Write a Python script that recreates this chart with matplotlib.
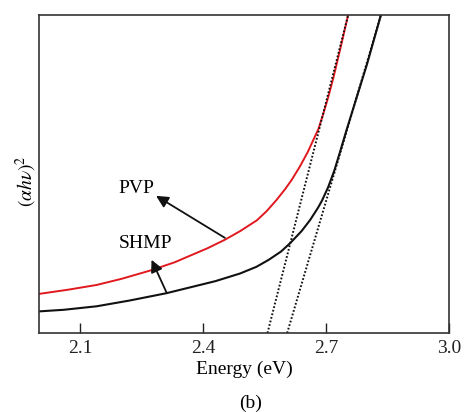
#Tauc plot: (ahv)^2 vs photon energy for PVP and SHMP samples
import numpy as np
import matplotlib
matplotlib.use("Agg")
import matplotlib.pyplot as plt

#Data (arbitrary y units, 0-10)
energy_pvp = [2.00, 2.07, 2.14, 2.20, 2.27, 2.33, 2.368, 2.41, 2.453, 2.49, 2.531, 2.555, 2.579, 2.60,
              2.616, 2.636, 2.655, 2.669, 2.681, 2.693, 2.705, 2.718, 2.735, 2.754]
abs_pvp = [1.23, 1.36, 1.51, 1.70, 1.96, 2.22, 2.43, 2.66, 2.93, 3.20, 3.54, 3.83, 4.18, 4.52,
           4.81, 5.23, 5.68, 6.07, 6.40, 6.88, 7.40, 8.03, 8.95, 10.0]

energy_shmp = [2.00, 2.06, 2.14, 2.22, 2.31, 2.37, 2.43, 2.49, 2.53, 2.56, 2.59, 2.612, 2.64, 2.661,
               2.68, 2.69, 2.705, 2.72, 2.735, 2.75, 2.775, 2.80, 2.834]
abs_shmp = [0.68, 0.73, 0.84, 1.02, 1.25, 1.44, 1.63, 1.87, 2.08, 2.30, 2.56, 2.82, 3.20, 3.55,
            3.93, 4.16, 4.58, 5.10, 5.73, 6.38, 7.42, 8.45, 10.0]

#Tangent (extrapolation) lines: energy at y=0 and y=10
fit_pvp_x = [2.557, 2.754]
fit_shmp_x = [2.605, 2.834]
fit_y = [0, 10]

xticks = [2.1, 2.4, 2.7, 3.0]

plt.rcParams['font.family'] = ['Liberation Serif', 'DejaVu Serif']
plt.rcParams['mathtext.fontset'] = 'stix'

fig = plt.figure(figsize=(4.65, 4.12), dpi=100)
ax = fig.add_axes([0.0845, 0.1917, 0.8811, 0.7726])

ax.plot(energy_pvp, abs_pvp, color='#e0191f', lw=1.4)
ax.plot(energy_shmp, abs_shmp, color='#111111', lw=1.5)
ax.plot(fit_pvp_x, fit_y, color='#111111', lw=1.4, ls=(0, (0.9, 1.0)))
ax.plot(fit_shmp_x, fit_y, color='#111111', lw=1.4, ls=(0, (0.9, 1.0)))

ax.set_xlim(2.0, 3.0)
ax.set_ylim(0, 10)
ax.set_xticks(xticks)
ax.set_xticklabels(['%.1f' % t for t in xticks])
ax.set_yticks([])
ax.tick_params(axis='x', direction='in', length=7, width=1.0, labelsize=14, pad=5, colors='#222222')
for s in ax.spines.values():
    s.set_linewidth(1.2)
    s.set_color('#333333')

ax.set_xlabel('Energy (eV)', fontsize=14, labelpad=3)
fig.text(0.056, 0.56, r'$(\alpha h\nu)^2$', rotation=90, fontsize=14, ha='center', va='center')
fig.text(0.538, 0.022, '(b)', fontsize=14, ha='center', va='center')

#Labels and arrows
ax.text(2.238, 4.53, 'PVP', fontsize=14, ha='center', va='center')
ax.text(2.260, 2.80, 'SHMP', fontsize=14, ha='center', va='center')
arrow = dict(arrowstyle='-|>', color='#111111', lw=1.3, mutation_scale=18, shrinkA=0, shrinkB=0)
ax.annotate('', xy=(2.285, 4.31), xytext=(2.453, 2.99), arrowprops=arrow)
ax.annotate('', xy=(2.274, 2.30), xytext=(2.311, 1.26), arrowprops=arrow)

fig.savefig('out.png', dpi=100)
